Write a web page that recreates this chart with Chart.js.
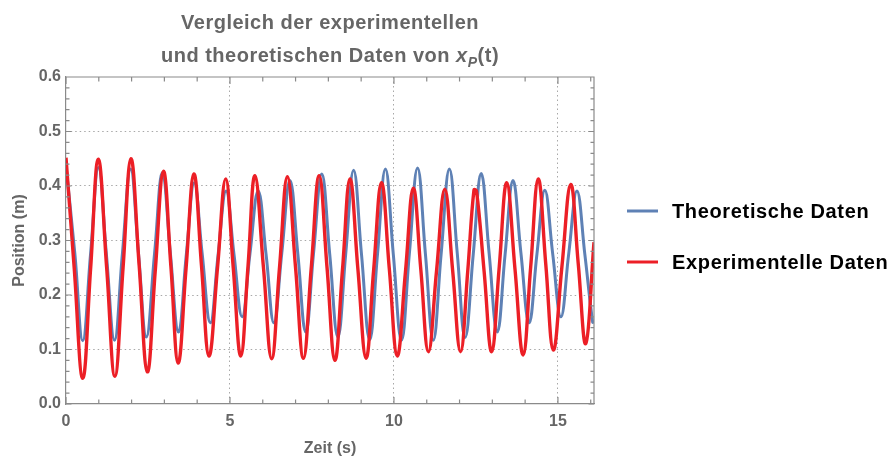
<!DOCTYPE html>
<html>
<head>
<meta charset="utf-8">
<script src="https://cdn.jsdelivr.net/npm/chart.js@4.4.1/dist/chart.umd.min.js"></script>
<style>
  html, body { margin: 0; padding: 0; background: #fff; }
</style>
</head>
<body>
<canvas id="myChart" width="890" height="460"></canvas>
<script>
// Theoretische Daten (Zeit in s, Position in m)
const theoT = [0.00, 0.27, 0.51, 0.75, 0.99, 1.23, 1.48, 1.72, 1.97, 2.21, 2.45, 2.70, 2.94, 3.18, 3.43, 3.67,
  3.91, 4.15, 4.40, 4.64, 4.88, 5.12, 5.37, 5.61, 5.86, 6.10, 6.34, 6.58, 6.83, 7.07, 7.31, 7.55,
  7.80, 8.04, 8.29, 8.53, 8.77, 9.01, 9.26, 9.50, 9.74, 9.98, 10.23, 10.47, 10.72, 10.96, 11.20, 11.44,
  11.69, 11.93, 12.17, 12.42, 12.66, 12.90, 13.15, 13.39, 13.63, 13.87, 14.12, 14.36, 14.60, 14.84,
  15.09, 15.33, 15.58, 15.82, 16.06, 16.10];
const theoV = [0.437, 0.276, 0.116, 0.276, 0.434, 0.276, 0.117, 0.276, 0.431, 0.277, 0.123, 0.276, 0.425, 0.278, 0.132, 0.275,
  0.406, 0.277, 0.149, 0.275, 0.391, 0.276, 0.160, 0.276, 0.391, 0.275, 0.149, 0.277, 0.410, 0.275, 0.132, 0.278,
  0.422, 0.276, 0.123, 0.276, 0.429, 0.275, 0.118, 0.276, 0.431, 0.275, 0.117, 0.276, 0.433, 0.275, 0.117, 0.276,
  0.431, 0.277, 0.122, 0.276, 0.423, 0.278, 0.132, 0.275, 0.410, 0.278, 0.149, 0.275, 0.392, 0.276,
  0.160, 0.276, 0.391, 0.275, 0.150, 0.152];

// Experimentelle Daten
const expT = [0.00, 0.25, 0.51, 0.75, 0.985, 1.24, 1.49, 1.74, 1.98, 2.23, 2.48, 2.72, 2.97, 3.20, 3.42, 3.66,
  3.90, 4.13, 4.36, 4.62, 4.87, 5.10, 5.33, 5.55, 5.76, 6.02, 6.27, 6.51, 6.75, 7.00, 7.24, 7.48,
  7.72, 7.96, 8.20, 8.43, 8.66, 8.90, 9.15, 9.38, 9.62, 9.86, 10.10, 10.35, 10.59, 10.82, 11.05, 11.30,
  11.55, 11.79, 12.03, 12.25, 12.44, 12.52, 12.75, 12.98, 13.21, 13.44, 13.69, 13.94, 14.17, 14.40,
  14.63, 14.86, 15.12, 15.39, 15.62, 15.85, 16.10];
const expV = [0.452, 0.250, 0.047, 0.248, 0.449, 0.250, 0.051, 0.250, 0.450, 0.255, 0.059, 0.243, 0.427, 0.251, 0.075, 0.248,
  0.422, 0.255, 0.088, 0.250, 0.413, 0.250, 0.088, 0.253, 0.419, 0.251, 0.083, 0.250, 0.417, 0.250, 0.084, 0.251,
  0.419, 0.250, 0.080, 0.246, 0.413, 0.248, 0.084, 0.245, 0.406, 0.247, 0.088, 0.242, 0.396, 0.246, 0.096, 0.245,
  0.394, 0.245, 0.096, 0.244, 0.393, 0.390, 0.243, 0.096, 0.251, 0.406, 0.248, 0.090, 0.252, 0.413,
  0.256, 0.099, 0.251, 0.403, 0.257, 0.111, 0.297];

const seriesNames = ['Theoretische Daten', 'Experimentelle Daten'];
const seriesColors = ['#5e81b5', '#ec1f26'];
const xTicks = [0, 5, 10, 15];
const yTicks = [0, 0.1, 0.2, 0.3, 0.4, 0.5, 0.6];
const xRange = [0, 16.1];
const yRange = [0, 0.6];

const FONT = '"Liberation Sans", Arial, sans-serif';
const GRAU = '#666666';
const RAHMEN = '#8a8a8a';

// Titel mit kursivem x_P
const titelPlugin = {
  id: 'titel',
  afterDraw(chart) {
    const c = chart.ctx;
    const mid = (chart.chartArea.left + chart.chartArea.right) / 2;
    c.save();
    c.fillStyle = GRAU;
    c.letterSpacing = '0.5px';
    c.textBaseline = 'alphabetic';
    c.textAlign = 'center';
    c.font = 'bold 20px ' + FONT;
    c.fillText('Vergleich der experimentellen', mid, 29);
    const teile = [
      { t: 'und theoretischen Daten von ', f: 'bold 20px ' + FONT, dy: 0 },
      { t: 'x', f: 'italic bold 20px ' + FONT, dy: 0 },
      { t: 'P', f: 'italic bold 14px ' + FONT, dy: 5 },
      { t: '(t)', f: 'bold 20px ' + FONT, dy: 0 }
    ];
    let breite = 0;
    teile.forEach(p => { c.font = p.f; breite += c.measureText(p.t).width; });
    let x = mid - breite / 2;
    c.textAlign = 'left';
    teile.forEach(p => {
      c.font = p.f;
      c.fillText(p.t, x, 62 + p.dy);
      x += c.measureText(p.t).width;
    });
    c.restore();
  }
};

// Rahmen oben/rechts und Striche nach innen
const rahmenPlugin = {
  id: 'rahmen',
  afterDraw(chart) {
    const c = chart.ctx;
    const a = chart.chartArea;
    const sx = chart.scales.x, sy = chart.scales.y;
    c.save();
    c.strokeStyle = RAHMEN;
    c.lineWidth = 1.2;
    c.beginPath();
    c.moveTo(a.left, a.top); c.lineTo(a.right, a.top); c.lineTo(a.right, a.bottom);
    for (let v = 0; v <= 16; v++) {
      const px = sx.getPixelForValue(v);
      const len = v % 5 === 0 ? 7 : 4.5;
      c.moveTo(px, a.bottom); c.lineTo(px, a.bottom - len);
      c.moveTo(px, a.top); c.lineTo(px, a.top + len);
    }
    for (let i = 0; i <= 30; i++) {
      const py = sy.getPixelForValue(i * 0.02);
      const len = i % 5 === 0 ? 5.5 : 3.5;
      c.moveTo(a.left, py); c.lineTo(a.left + len, py);
      c.moveTo(a.right, py); c.lineTo(a.right - len, py);
    }
    c.stroke();
    c.restore();
  }
};

// Legende rechts
const legendePlugin = {
  id: 'legende',
  afterDraw(chart) {
    const c = chart.ctx;
    const ys = [211, 262];
    c.save();
    chart.data.datasets.forEach((ds, i) => {
      c.strokeStyle = ds.borderColor;
      c.lineWidth = 3;
      c.beginPath();
      c.moveTo(627, ys[i]); c.lineTo(658, ys[i]);
      c.stroke();
      c.fillStyle = '#000';
      c.letterSpacing = '0.65px';
      c.font = 'bold 20px ' + FONT;
      c.textBaseline = 'middle';
      c.textAlign = 'left';
      c.fillText(ds.label, 672, ys[i] + 1);
    });
    c.restore();
  }
};

const ctx = document.getElementById('myChart').getContext('2d');
const myChart = new Chart(ctx, {
  type: 'line',
  data: {
    datasets: [
      {
        label: seriesNames[0],
        data: theoT.map((t, i) => ({ x: t, y: theoV[i] })),
        borderColor: seriesColors[0],
        borderWidth: 3,
        pointRadius: 0,
        tension: 0.42,
        order: 2
      },
      {
        label: seriesNames[1],
        data: expT.map((t, i) => ({ x: t, y: expV[i] })),
        borderColor: seriesColors[1],
        borderWidth: 3.4,
        pointRadius: 0,
        tension: 0.42,
        order: 1
      }
    ]
  },
  options: {
    responsive: false,
    animation: false,
    layout: { padding: { left: 0, top: 77, right: 296, bottom: 0 } },
    plugins: {
      legend: { display: false },
      tooltip: { enabled: false }
    },
    scales: {
      x: {
        type: 'linear',
        min: xRange[0],
        max: xRange[1],
        afterFit: s => { s.height = 56; },
        afterBuildTicks: s => { s.ticks = xTicks.map(v => ({ value: v })); },
        grid: {
          drawTicks: false,
          lineWidth: 1,
          color: c => (c.tick && c.tick.value > 0) ? '#a8a8a8' : 'rgba(0,0,0,0)'
        },
        border: { display: true, color: RAHMEN, width: 1.2, dash: [1.5, 3] },
        ticks: { color: GRAU, font: { family: FONT, size: 16, weight: 'bold' }, padding: 8, maxRotation: 0 },
        title: { display: true, text: 'Zeit (s)', color: GRAU, font: { family: FONT, size: 16, weight: 'bold' }, padding: { top: 0, bottom: 2 } }
      },
      y: {
        min: yRange[0],
        max: yRange[1],
        afterFit: s => { s.width = 66; },
        afterBuildTicks: s => { s.ticks = yTicks.map(v => ({ value: v })); },
        grid: {
          drawTicks: false,
          lineWidth: 1,
          color: c => (c.tick && c.tick.value > 0.001 && c.tick.value < 0.599) ? '#a8a8a8' : 'rgba(0,0,0,0)'
        },
        border: { display: true, color: RAHMEN, width: 1.2, dash: [1.5, 3] },
        ticks: { color: GRAU, font: { family: FONT, size: 16, weight: 'bold' }, padding: 5, callback: v => v.toFixed(1) },
        title: { display: true, text: 'Position (m)', color: GRAU, font: { family: FONT, size: 16, weight: 'bold' }, padding: { top: 10, bottom: 0 } }
      }
    }
  },
  plugins: [titelPlugin, rahmenPlugin, legendePlugin]
});
</script>
</body>
</html>
